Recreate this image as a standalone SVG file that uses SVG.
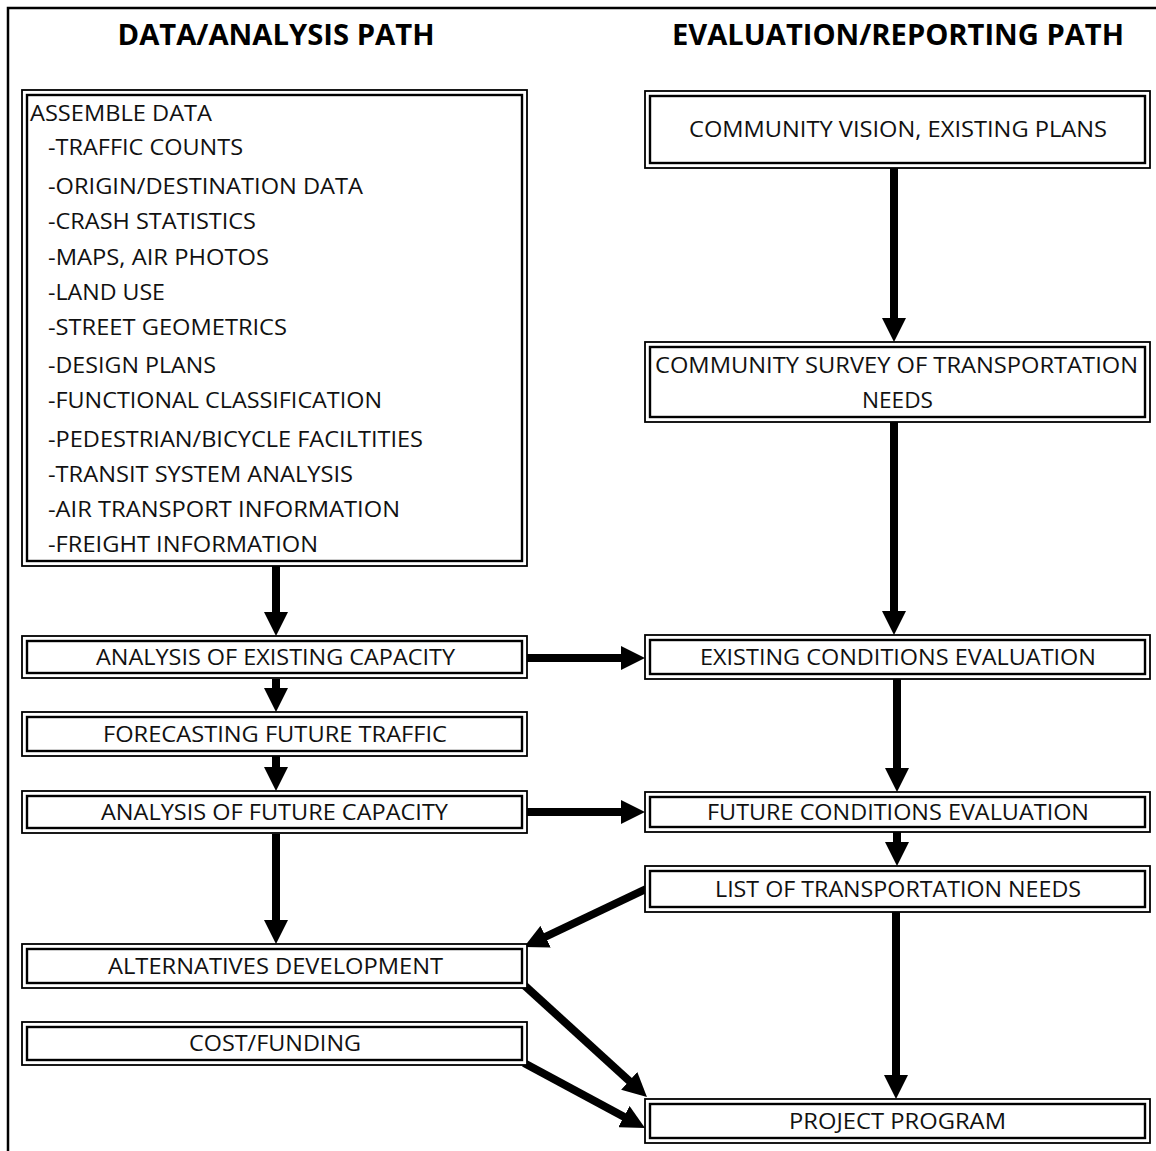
<svg xmlns="http://www.w3.org/2000/svg" width="1156" height="1151" viewBox="0 0 1156 1151">
<style>
  .frame{fill:none;stroke:#000;stroke-width:2.5}
  .bo{fill:#fff;stroke:#000;stroke-width:1.8}
  .bi{fill:none;stroke:#000;stroke-width:2.4}
  .t{font-family:"Open Sans","Noto Sans","DejaVu Sans",sans-serif;font-size:21px;fill:#111}
  .c{text-anchor:middle}
  .h{font-family:"Open Sans","Noto Sans","DejaVu Sans",sans-serif;font-size:28px;font-weight:bold;fill:#000;text-anchor:middle}
  .a{stroke:#000;stroke-width:8;fill:none;marker-end:url(#ah)}
</style>
<defs>
  <marker id="ah" markerUnits="userSpaceOnUse" markerWidth="24" markerHeight="24" refX="10" refY="12" orient="auto">
    <path d="M0,0 L24,12 L0,24 Z" fill="#000"/>
  </marker>
</defs>
<rect width="1156" height="1151" fill="#fff"/>
<path class="frame" d="M8,1151 L8,8 L1156,8"/>
<g id="titles">
  <text class="h" x="276" y="45" textLength="317" lengthAdjust="spacingAndGlyphs">DATA/ANALYSIS PATH</text>
  <text class="h" x="898" y="45" textLength="452" lengthAdjust="spacingAndGlyphs">EVALUATION/REPORTING PATH</text>
</g>
<g id="connectors">
  <line class="a" x1="276" y1="566" x2="276" y2="622"/>
  <line class="a" x1="276" y1="679" x2="276" y2="698"/>
  <line class="a" x1="276" y1="756" x2="276" y2="777"/>
  <line class="a" x1="276" y1="834" x2="276" y2="930"/>
  <line class="a" x1="527" y1="658" x2="631" y2="658"/>
  <line class="a" x1="527" y1="812" x2="631" y2="812"/>
  <line class="a" x1="894" y1="168" x2="894" y2="328"/>
  <line class="a" x1="894" y1="422" x2="894" y2="621"/>
  <line class="a" x1="897" y1="679" x2="897" y2="778"/>
  <line class="a" x1="897" y1="832" x2="897" y2="852"/>
  <line class="a" x1="646" y1="889" x2="536.6" y2="941"/>
  <line class="a" x1="896" y1="912" x2="896" y2="1085"/>
  <line class="a" x1="524" y1="985" x2="636.6" y2="1087.6"/>
  <line class="a" x1="524" y1="1063" x2="632.7" y2="1121.4"/>
</g>
<g id="assemble-data">
  <rect class="bo" x="22" y="90" width="505" height="476"/>
  <rect class="bi" x="27" y="95" width="495" height="466"/>
  <text class="t" x="30" y="120.5" textLength="182" lengthAdjust="spacingAndGlyphs">ASSEMBLE DATA</text>
  <text class="t" x="48" y="154.5" textLength="195" lengthAdjust="spacingAndGlyphs">-TRAFFIC COUNTS</text>
  <text class="t" x="48" y="193.5" textLength="315" lengthAdjust="spacingAndGlyphs">-ORIGIN/DESTINATION DATA</text>
  <text class="t" x="48" y="228.5" textLength="208" lengthAdjust="spacingAndGlyphs">-CRASH STATISTICS</text>
  <text class="t" x="48" y="264.5" textLength="221" lengthAdjust="spacingAndGlyphs">-MAPS, AIR PHOTOS</text>
  <text class="t" x="48" y="299.5" textLength="117" lengthAdjust="spacingAndGlyphs">-LAND USE</text>
  <text class="t" x="48" y="334.5" textLength="239" lengthAdjust="spacingAndGlyphs">-STREET GEOMETRICS</text>
  <text class="t" x="48" y="372.5" textLength="168" lengthAdjust="spacingAndGlyphs">-DESIGN PLANS</text>
  <text class="t" x="48" y="407.5" textLength="334" lengthAdjust="spacingAndGlyphs">-FUNCTIONAL CLASSIFICATION</text>
  <text class="t" x="48" y="446.5" textLength="375" lengthAdjust="spacingAndGlyphs">-PEDESTRIAN/BICYCLE FACILTITIES</text>
  <text class="t" x="48" y="481.5" textLength="305" lengthAdjust="spacingAndGlyphs">-TRANSIT SYSTEM ANALYSIS</text>
  <text class="t" x="48" y="516.5" textLength="352" lengthAdjust="spacingAndGlyphs">-AIR TRANSPORT INFORMATION</text>
  <text class="t" x="48" y="551.5" textLength="270" lengthAdjust="spacingAndGlyphs">-FREIGHT INFORMATION</text>
</g>
<g id="analysis-existing">
  <rect class="bo" x="22" y="636" width="505" height="42"/>
  <rect class="bi" x="27" y="641" width="495" height="32"/>
  <text class="t c" x="275.5" y="664.5" textLength="359" lengthAdjust="spacingAndGlyphs">ANALYSIS OF EXISTING CAPACITY</text>
</g>
<g id="forecasting">
  <rect class="bo" x="22" y="712" width="505" height="44"/>
  <rect class="bi" x="27" y="717" width="495" height="34"/>
  <text class="t c" x="275" y="741.5" textLength="344" lengthAdjust="spacingAndGlyphs">FORECASTING FUTURE TRAFFIC</text>
</g>
<g id="analysis-future">
  <rect class="bo" x="22" y="791" width="505" height="42"/>
  <rect class="bi" x="27" y="796" width="495" height="32"/>
  <text class="t c" x="274.5" y="819.5" textLength="347" lengthAdjust="spacingAndGlyphs">ANALYSIS OF FUTURE CAPACITY</text>
</g>
<g id="alternatives">
  <rect class="bo" x="22" y="944" width="505" height="44"/>
  <rect class="bi" x="27" y="949" width="495" height="34"/>
  <text class="t c" x="275.5" y="973.5" textLength="335" lengthAdjust="spacingAndGlyphs">ALTERNATIVES DEVELOPMENT</text>
</g>
<g id="cost-funding">
  <rect class="bo" x="22" y="1022" width="505" height="43"/>
  <rect class="bi" x="27" y="1027" width="495" height="33"/>
  <text class="t c" x="275" y="1050.5" textLength="172" lengthAdjust="spacingAndGlyphs">COST/FUNDING</text>
</g>
<g id="community-vision">
  <rect class="bo" x="645" y="91" width="505" height="77"/>
  <rect class="bi" x="650" y="96" width="495" height="67"/>
  <text class="t c" x="898" y="136.5" textLength="418" lengthAdjust="spacingAndGlyphs">COMMUNITY VISION, EXISTING PLANS</text>
</g>
<g id="community-survey">
  <rect class="bo" x="645" y="342" width="505" height="80"/>
  <rect class="bi" x="650" y="347" width="495" height="70"/>
  <text class="t c" x="896.5" y="372.5" textLength="483" lengthAdjust="spacingAndGlyphs">COMMUNITY SURVEY OF TRANSPORTATION</text>
  <text class="t c" x="897.5" y="407.5" textLength="71" lengthAdjust="spacingAndGlyphs">NEEDS</text>
</g>
<g id="existing-conditions">
  <rect class="bo" x="645" y="635" width="505" height="44"/>
  <rect class="bi" x="650" y="640" width="495" height="34"/>
  <text class="t c" x="898" y="664.5" textLength="396" lengthAdjust="spacingAndGlyphs">EXISTING CONDITIONS EVALUATION</text>
</g>
<g id="future-conditions">
  <rect class="bo" x="645" y="792" width="505" height="40"/>
  <rect class="bi" x="650" y="797" width="495" height="30"/>
  <text class="t c" x="898" y="819.5" textLength="382" lengthAdjust="spacingAndGlyphs">FUTURE CONDITIONS EVALUATION</text>
</g>
<g id="list-needs">
  <rect class="bo" x="645" y="866" width="505" height="46"/>
  <rect class="bi" x="650" y="871" width="495" height="36"/>
  <text class="t c" x="898" y="896.5" textLength="366" lengthAdjust="spacingAndGlyphs">LIST OF TRANSPORTATION NEEDS</text>
</g>
<g id="project-program">
  <rect class="bo" x="645" y="1099" width="505" height="44"/>
  <rect class="bi" x="650" y="1104" width="495" height="34"/>
  <text class="t c" x="897.5" y="1128.5" textLength="217" lengthAdjust="spacingAndGlyphs">PROJECT PROGRAM</text>
</g>
</svg>
